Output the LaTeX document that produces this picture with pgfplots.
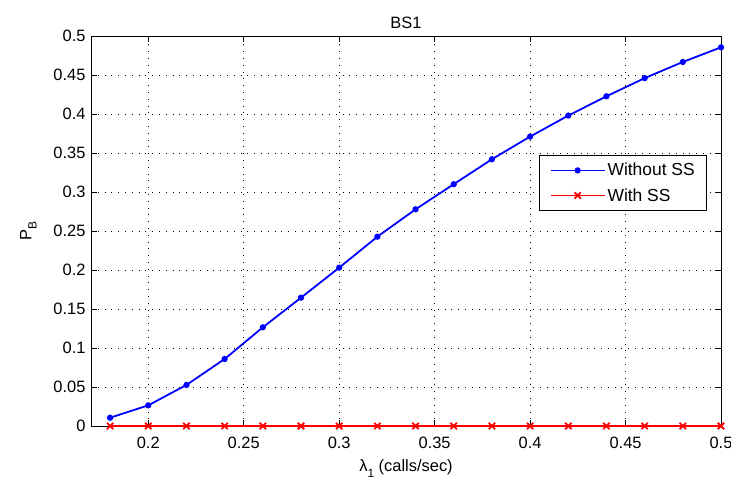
\documentclass[border=0pt]{standalone}
\usepackage{pgfplots}
\pgfplotsset{compat=1.18}
\usepackage{fontspec}
\setmainfont{Liberation Sans}
\begin{document}
\begin{tikzpicture}
\path[use as bounding box] (-91bp,-55bp) rectangle (640bp,426bp);
\begin{axis}[
  at={(0,0)}, anchor=south west,
  scale only axis, width=630bp, height=390bp,
  xmin=0.17, xmax=0.5, ymin=0, ymax=0.5,
  xtick={0.2,0.25,0.3,0.35,0.4,0.45,0.5},
  ytick={0,0.05,0.1,0.15,0.2,0.25,0.3,0.35,0.4,0.45,0.5},
  xticklabels={0.2,0.25,0.3,0.35,0.4,0.45,0.5},
  yticklabels={0,0.05,0.1,0.15,0.2,0.25,0.3,0.35,0.4,0.45,0.5},
  tick align=inside, tick pos=both,
  major tick length=6bp,
  grid=major,
  major grid style={black, line width=0.6pt, dash pattern=on 0.8bp off 6bp},
  axis line style={black, line width=0.8pt},
  tick style={black, line width=0.8pt},
  ticklabel style={font=\fontsize{16.5}{19}\selectfont},
  yticklabel style={xshift=-2bp},
  xticklabel style={yshift=-8bp},
  title={BS1},
  title style={font=\fontsize{16.5}{19}\selectfont, yshift=-2bp},
  xlabel={λ\raisebox{-0.6ex}{\fontsize{12}{12}\selectfont 1} (calls/sec)},
  ylabel={P\raisebox{-0.6ex}{\fontsize{12}{12}\selectfont B}},
  label style={font=\fontsize{16.5}{19}\selectfont},
  xlabel style={yshift=-4bp},
  ylabel style={yshift=10bp},
  legend style={at={(0.978,0.695)}, anchor=north east, draw=black, line width=0.8pt,
    font=\fontsize{17.5}{20}\selectfont, row sep=7bp, inner xsep=10bp, inner ysep=6bp},
  legend cell align=left,
  legend image code/.code={
    \draw[#1, line width=1.8pt] (0bp,0bp) -- (54bp,0bp);
    \draw[#1, line width=1.8pt, mark repeat=1] plot coordinates {(27bp,0bp)};
  },
]
\addplot[blue, line width=1.8pt, mark=*, mark size=2.2pt] coordinates {
(0.18,0.0106) (0.20,0.0265) (0.22,0.0526) (0.24,0.0859) (0.26,0.1265)
(0.28,0.1645) (0.30,0.2030) (0.32,0.2427) (0.34,0.2778) (0.36,0.3100)
(0.38,0.3420) (0.40,0.3710) (0.42,0.3980) (0.44,0.4227) (0.46,0.4460)
(0.48,0.4667) (0.50,0.4855)
};
\addlegendentry{Without SS}
\addplot[red, line width=1.8pt, mark=x, mark size=4.5pt, mark options={line width=1.8pt}] coordinates {
(0.18,0) (0.20,0) (0.22,0) (0.24,0) (0.26,0) (0.28,0) (0.30,0) (0.32,0)
(0.34,0) (0.36,0) (0.38,0) (0.40,0) (0.42,0) (0.44,0) (0.46,0) (0.48,0) (0.50,0)
};
\addlegendentry{With SS}
\end{axis}
\end{tikzpicture}
\end{document}
